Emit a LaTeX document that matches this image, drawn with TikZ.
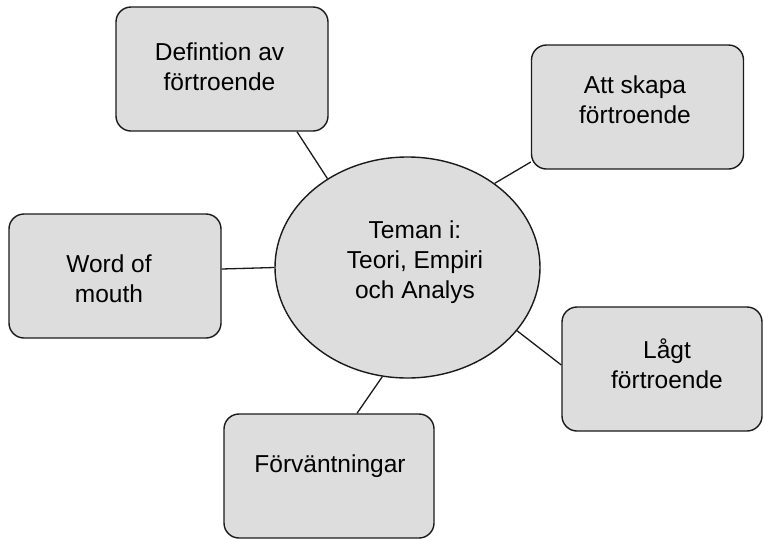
\documentclass[tikz,border=0pt]{standalone}
\usepackage{fontspec}
\setmainfont{Liberation Sans}
\usetikzlibrary{shapes.geometric}
\definecolor{boxfill}{HTML}{DDDDDD}
\definecolor{edge}{HTML}{1A1A1A}
\begin{document}
\begin{tikzpicture}[x=1pt,y=-1pt,
  topicbox/.style={draw=edge,line width=1.4pt,fill=boxfill,rounded corners=15pt,
    minimum width=212pt,minimum height=124pt,inner sep=0pt},
  hub/.style={draw=edge,line width=1.4pt,fill=boxfill,ellipse,
    minimum width=265pt,minimum height=221pt,inner sep=0pt},
  caption/.style={font=\fontsize{24.5}{30}\selectfont,align=center,anchor=base,inner sep=0pt},
  link/.style={draw=edge,line width=1.3pt}]
\useasboundingbox (0,0) rectangle (765,539);

% central theme and the five topic boxes
\node[hub] (c) at (407.5,267.5) {};
\node[topicbox] (b1) at (222,69) {};
\node[topicbox] (b2) at (637.5,107) {};
\node[topicbox] (b3) at (115,276) {};
\node[topicbox,minimum width=200pt] (b4) at (662,369) {};
\node[topicbox,minimum width=210pt] (b5) at (329,476) {};

% labels (base anchor sits on the last line)
\node[caption] (t0) at (415,298) {Teman i:\\Teori, Empiri\\och Analys};
\node[caption] (t1) at (219.5,90.5) {Defintion av\\förtroende};
\node[caption] (t2) at (635,123) {Att skapa\\förtroende};
\node[caption] (t3) at (109,302) {Word of\\mouth};
\node[caption] (t4) at (667,388) {Lågt\\förtroende};
\node[caption] (t5) at (330,472) {Förväntningar};

% spokes from the boxes to the centre
\draw[link] ([xshift=75pt]b1.south) -- (c.132.3);
\draw[link] ([yshift=-55pt]b2.west) -- (c.44);
\draw[link] ([yshift=7pt]b3.east) -- (c.180);
\draw[link] ([yshift=4pt]b4.west) -- (c.330.3);
\draw[link] ([xshift=28pt]b5.north) -- (c.257.4);
\end{tikzpicture}
\end{document}
